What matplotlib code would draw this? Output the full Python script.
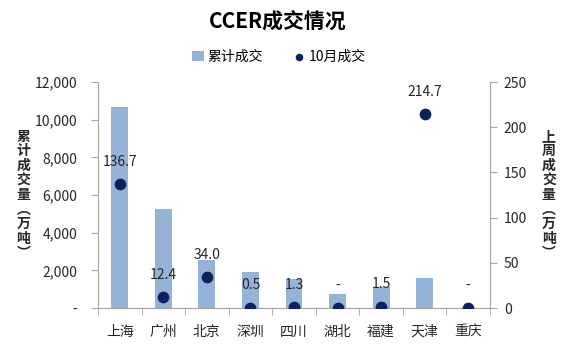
import matplotlib
matplotlib.use("Agg")
import matplotlib.pyplot as plt
from matplotlib.ticker import FuncFormatter, FixedLocator

plt.rcParams['font.family'] = ['Noto Sans CJK SC', 'DejaVu Sans']

# Data (万吨)
cities = ["上海", "广州", "北京", "深圳", "四川", "湖北", "福建", "天津", "重庆"]
cumulative = [10650, 5250, 2550, 1900, 1550, 750, 1100, 1600, 0]
october = [136.7, 12.4, 34.0, 0.5, 1.3, 0, 1.5, 214.7, 0]
october_labels = ["136.7", "12.4", "34.0", "0.5", "1.3", "-", "1.5", "214.7", "-"]

bar_color = "#95B3D7"
dot_color = "#0B2160"
spine_color = "#A6A6A6"
text_color = "#262626"

fig = plt.figure(figsize=(5.7, 3.45), dpi=100)
ax = fig.add_axes([98 / 570, 1 - 308 / 345, (490 - 98) / 570, (308 - 82) / 345])
ax2 = ax.twinx()

x = list(range(len(cities)))
ax.bar(x, cumulative, width=0.39, color=bar_color, zorder=2, label="累计成交")
ax2.scatter(x, october, s=55, color=dot_color, zorder=3, label="10月成交")
for xi, v, lab in zip(x, october, october_labels):
    ax2.annotate(lab, (xi, v), xytext=(0, 16), textcoords="offset points",
                 ha="center", va="center", fontsize=10, color=text_color)

ax.set_xlim(-0.5, len(cities) - 0.5)
ax.set_ylim(0, 12000)
ax2.set_ylim(0, 250)
ax.set_yticks(range(0, 12001, 2000))
ax2.set_yticks(range(0, 251, 50))
ax.yaxis.set_major_formatter(FuncFormatter(lambda v, p: "-" if v == 0 else f"{int(v):,}"))

ax.set_xticks(x)
ax.set_xticklabels(cities)
ax.xaxis.set_minor_locator(FixedLocator([i - 0.5 for i in range(len(cities) + 1)]))
ax.tick_params(axis="x", which="major", length=0, pad=12, labelsize=10, colors=text_color)
ax.tick_params(axis="x", which="minor", length=5, color=spine_color, direction="out")
ax.tick_params(axis="y", length=5, color=spine_color, labelsize=10, labelcolor=text_color, pad=10)
ax2.tick_params(axis="y", length=5, color=spine_color, labelsize=10, labelcolor=text_color, pad=5)

for a in (ax, ax2):
    a.spines["top"].set_visible(False)
    for s in ("left", "right", "bottom"):
        a.spines[s].set_color(spine_color)
ax.spines["right"].set_visible(False)
ax2.spines["left"].set_visible(False)

# Vertical axis titles, one character per line with vertical-form brackets
left_title = "累计成交量︵万吨︶"
right_title = "上周成交量︵万吨︶"
ax.set_ylabel("\n".join(left_title), rotation=0, fontsize=10, fontweight="bold",
              color=text_color, linespacing=1.05, va="center")
ax2.set_ylabel("\n".join(right_title), rotation=0, fontsize=10, fontweight="bold",
               color=text_color, linespacing=1.05, va="center")
ax.yaxis.set_label_coords(-0.19, 0.5)
ax2.yaxis.set_label_coords(1.15, 0.5)

fig.text(0.487, 1 - 22 / 345, "CCER成交情况", ha="center", va="center",
         fontsize=15, fontweight="bold", color="#000000")

h1, l1 = ax.get_legend_handles_labels()
h2, l2 = ax2.get_legend_handles_labels()
fig.legend(h1 + h2, l1 + l2, loc="center", bbox_to_anchor=(0.49, 1 - 57 / 345), ncol=2,
           frameon=False, fontsize=10, handlelength=0.8, handleheight=0.8,
           columnspacing=2.2, handletextpad=0.3, markerscale=0.6)

fig.savefig("out.png", dpi=100)
